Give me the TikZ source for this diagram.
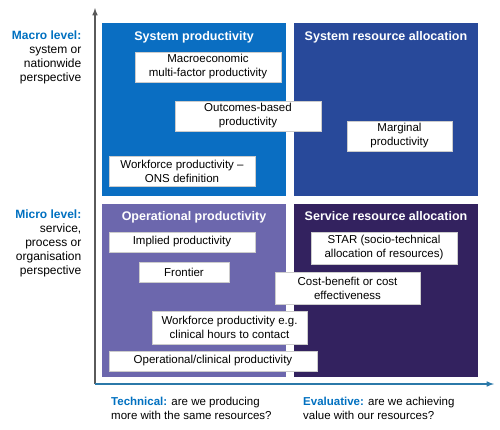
\documentclass[tikz,border=0pt]{standalone}
\usepackage{fontspec}
\setmainfont{Liberation Sans}
\usepackage{xcolor}
\usetikzlibrary{shapes,arrows,positioning}

\definecolor{sysprodblue}{HTML}{0A6EC2}
\definecolor{sysallocblue}{HTML}{28499A}
\definecolor{opprodpurple}{HTML}{6C67AD}
\definecolor{servallocpurple}{HTML}{33225F}
\definecolor{levelblue}{HTML}{0070C0}
\definecolor{axisblue}{HTML}{2B79A9}
\definecolor{axisgray}{HTML}{5A5A5A}

\begin{document}
\begin{tikzpicture}[x=1pt, y=-1pt, node distance=8pt,
        quad/.style={rectangle, inner sep=0pt, minimum width=184pt, minimum height=173pt},
        title/.style={text=white, inner sep=0pt, font=\fontsize{12.5}{15}\selectfont\bfseries},
        box/.style={draw=gray!40, fill=white, rectangle, align=center, inner sep=0pt, font=\fontsize{11.5}{14}\selectfont},
        side/.style={align=right, inner sep=0pt, font=\fontsize{12}{14}\selectfont},
        question/.style={align=left, inner sep=0pt, font=\fontsize{11.5}{14}\selectfont}]
        \useasboundingbox (0,0) rectangle (500,429);

        % Quadrants
        \node (sysprod) [quad, fill=sysprodblue] at (194,109.5) {};
        \node (sysalloc) [quad, fill=sysallocblue] at (386,109.5) {};
        \node (opprod) [quad, fill=opprodpurple] at (194,290) {};
        \node (servalloc) [quad, fill=servallocpurple] at (386,290) {};

        % Quadrant titles
        \node (sysprodtitle) [title, below=of sysprod.north] {System productivity};
        \node (sysalloctitle) [title, below=of sysalloc.north] {System resource allocation};
        \node (opprodtitle) [title, below=of opprod.north] {Operational productivity};
        \node (servalloctitle) [title, below=of servalloc.north] {Service resource allocation};

        % Measures
        \node (macro) [box, minimum width=146pt, minimum height=30pt] at (208,67) {Macroeconomic\\multi-factor productivity};
        \node (outcomes) [box, minimum width=146pt, minimum height=30pt] at (248,116) {Outcomes-based\\productivity};
        \node (ons) [box, minimum width=146pt, minimum height=30pt] at (182,171) {Workforce productivity --\\ONS definition};
        \node (marginal) [box, minimum width=105pt, minimum height=30pt] at (399.5,136) {Marginal\\productivity};
        \node (implied) [box, minimum width=146pt, minimum height=20pt] at (182,242) {Implied productivity};
        \node (frontier) [box, minimum width=90pt, minimum height=20pt] at (184,272) {Frontier};
        \node (star) [box, minimum width=146pt, minimum height=32pt] at (384,248) {STAR (socio-technical\\allocation of resources)};
        \node (costben) [box, minimum width=145pt, minimum height=32pt] at (347.5,288) {Cost-benefit or cost\\effectiveness};
        \node (clinhours) [box, minimum width=155pt, minimum height=33pt] at (229.5,327.5) {Workforce productivity e.g.\\clinical hours to contact};
        \node (opclin) [box, minimum width=208pt, minimum height=20pt] at (213,361) {Operational/clinical productivity};

        % Axes
        \coordinate (origin) at (95,384);
        \coordinate (ytop) at (95,8);
        \coordinate (xend) at (494,384);
        \draw [-latex, line width=1.5pt, axisgray] (origin) -- (ytop);
        \draw [-latex, line width=1.5pt, axisblue] (origin) -- (xend);

        % Level labels
        \node (macrolevel) [side, anchor=north east] at (81.5,31) {\textcolor{levelblue}{\bfseries Macro level:}\\system or\\nationwide\\perspective};
        \node (microlevel) [side, anchor=north east] at (81.5,210) {\textcolor{levelblue}{\bfseries Micro level:}\\service,\\process or\\organisation\\perspective};

        % Questions
        \node (technical) [question, anchor=north west] at (111,396.5) {\textcolor{levelblue}{\bfseries Technical:} are we producing\\more with the same resources?};
        \node (evaluative) [question, anchor=north west] at (303,396.5) {\textcolor{levelblue}{\bfseries Evaluative:} are we achieving\\value with our resources?};
\end{tikzpicture}
\end{document}
